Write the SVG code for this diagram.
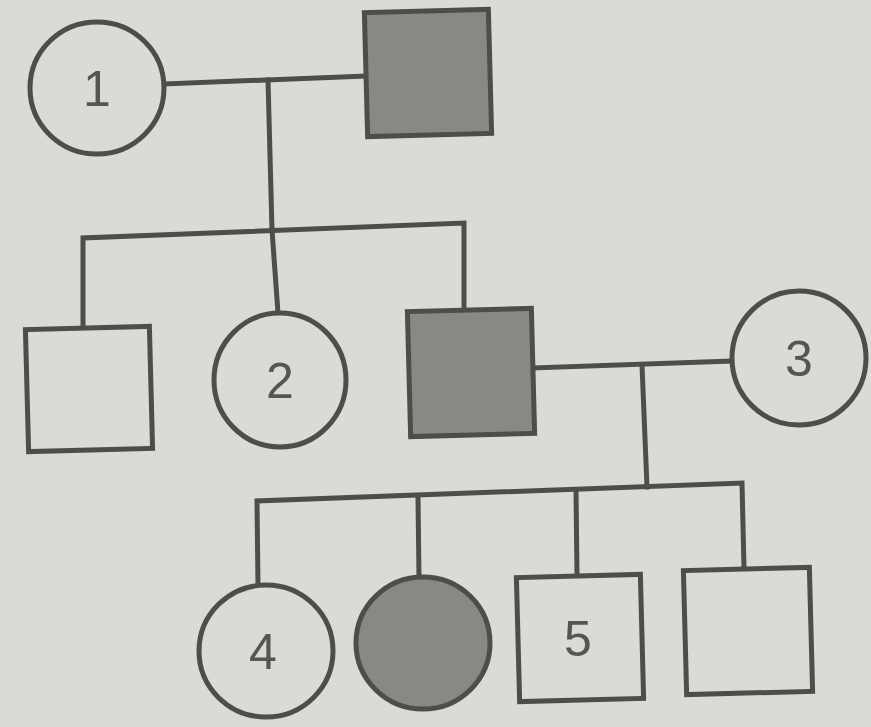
<svg xmlns="http://www.w3.org/2000/svg" width="871" height="727" viewBox="0 0 871 727">
<defs>
<style>
.ln{fill:none;stroke:#4d4d4b;stroke-width:5;stroke-linecap:square}
.nd{fill:#d9dbd7;stroke:#4d4d4b;stroke-width:5}
.af{fill:#8a8884;stroke:#4d4d4b;stroke-width:5}
.lb{font-family:"Liberation Sans",Arial,sans-serif;font-size:50px;fill:#555553;text-anchor:middle}
</style>
</defs>
<rect x="0" y="0" width="871" height="727" fill="#d9dbd7"/>
<g id="connectors">
<path class="ln" d="M165 84 L364 76"/>
<path class="ln" d="M268 80 L272 230"/>
<path class="ln" d="M83 327 L83 238 L464 223 L464 308"/>
<path class="ln" d="M272 230 L278 313"/>
<path class="ln" d="M533 368 L730 361"/>
<path class="ln" d="M642 365 L647 487"/>
<path class="ln" d="M258 585 L257 501 L742 483 L744 568"/>
<path class="ln" d="M418 496 L419 578"/>
<path class="ln" d="M576 490 L577 575"/>
</g>
<g id="n1">
<ellipse class="nd" cx="97" cy="88" rx="67" ry="66"/>
<text class="lb" x="97" y="106">1</text>
</g>
<g id="father">
<rect class="af" x="366" y="11" width="124" height="124" transform="rotate(-1.5 428 73)"/>
</g>
<g id="son1">
<rect class="nd" x="27" y="328" width="124" height="122" transform="rotate(-1.5 89 389)"/>
</g>
<g id="n2">
<ellipse class="nd" cx="280" cy="380" rx="66" ry="67"/>
<text class="lb" x="280" y="398">2</text>
</g>
<g id="son2">
<rect class="af" x="409" y="310" width="124" height="125" transform="rotate(-1.5 471 372)"/>
</g>
<g id="n3">
<ellipse class="nd" cx="799" cy="358" rx="67" ry="67"/>
<text class="lb" x="799" y="376">3</text>
</g>
<g id="n4">
<ellipse class="nd" cx="266" cy="651" rx="67" ry="66"/>
<text class="lb" x="263" y="669">4</text>
</g>
<g id="daughter">
<ellipse class="af" cx="423" cy="643" rx="67" ry="66"/>
</g>
<g id="n5">
<rect class="nd" x="518" y="576" width="124" height="124" transform="rotate(-1.5 580 638)"/>
<text class="lb" x="578" y="656">5</text>
</g>
<g id="son4">
<rect class="nd" x="685" y="569" width="126" height="124" transform="rotate(-1.5 748 631)"/>
</g>
</svg>
